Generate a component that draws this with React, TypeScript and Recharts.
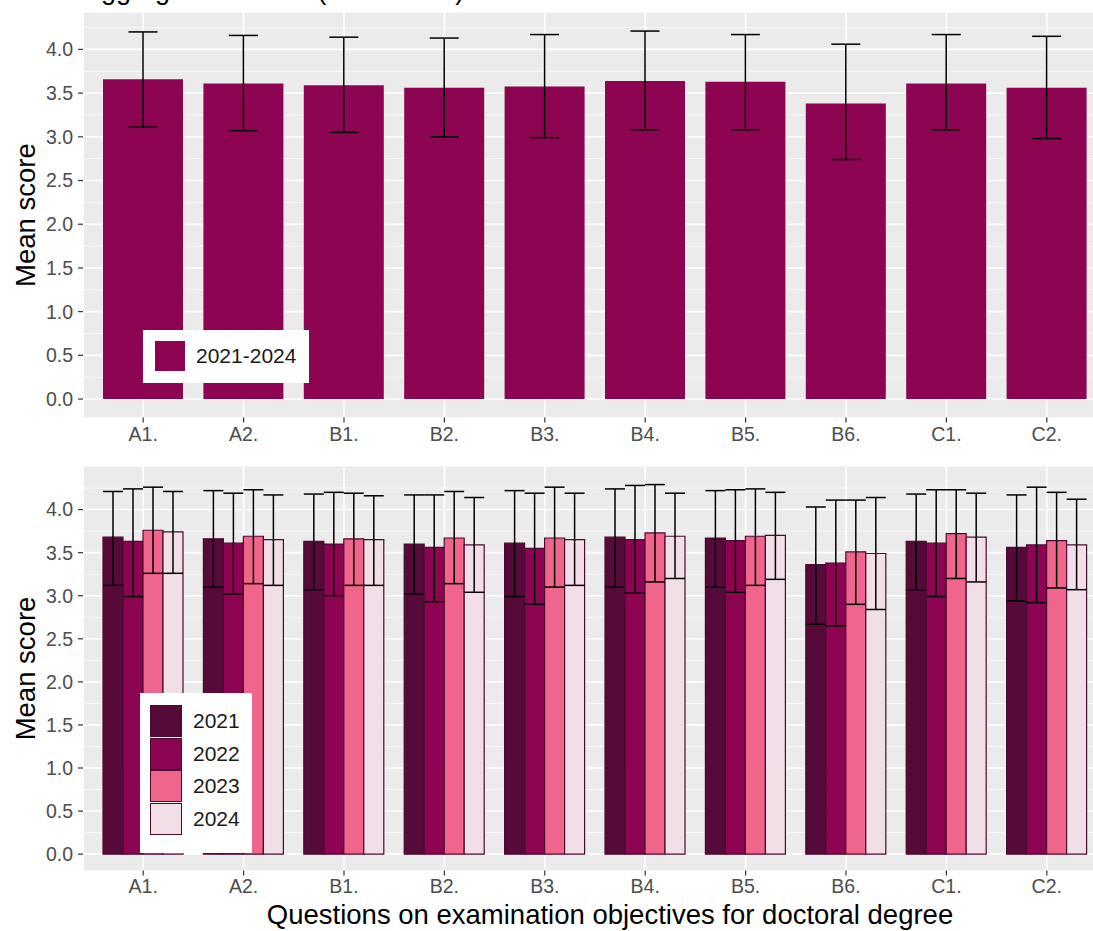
import { Bar, BarChart, CartesianGrid, ErrorBar, Label, Legend, XAxis, YAxis } from "recharts";

const font = "'Liberation Sans', Arial, sans-serif";

const questions = ["A1.", "A2.", "B1.", "B2.", "B3.", "B4.", "B5.", "B6.", "C1.", "C2."];
const yTicks = [0, 0.5, 1, 1.5, 2, 2.5, 3, 3.5, 4];
const minorTicks = [0.25, 0.75, 1.25, 1.75, 2.25, 2.75, 3.25, 3.75, 4.25];

// all years pooled
const pooledMean = [3.66, 3.61, 3.59, 3.56, 3.575, 3.64, 3.63, 3.38, 3.61, 3.56];
const pooledLow = [3.11, 3.07, 3.05, 3.0, 2.99, 3.08, 3.08, 2.74, 3.08, 2.98];
const pooledHigh = [4.2, 4.16, 4.14, 4.13, 4.17, 4.21, 4.17, 4.06, 4.17, 4.15];

const years = ["2021", "2022", "2023", "2024"];
const yearColors = ["#560A3A", "#8C0452", "#EF658C", "#F2DEE7"];

const mean2021 = [3.68, 3.66, 3.63, 3.6, 3.61, 3.68, 3.67, 3.36, 3.63, 3.56];
const low2021 = [3.12, 3.1, 3.07, 3.02, 2.99, 3.1, 3.1, 2.67, 3.07, 2.94];
const high2021 = [4.21, 4.22, 4.18, 4.17, 4.22, 4.24, 4.22, 4.03, 4.18, 4.17];

const mean2022 = [3.63, 3.61, 3.6, 3.56, 3.55, 3.65, 3.64, 3.38, 3.61, 3.59];
const low2022 = [2.99, 3.02, 3.0, 2.93, 2.9, 3.03, 3.04, 2.65, 2.99, 2.92];
const high2022 = [4.24, 4.19, 4.2, 4.17, 4.19, 4.28, 4.23, 4.11, 4.23, 4.26];

const mean2023 = [3.76, 3.69, 3.66, 3.67, 3.67, 3.73, 3.69, 3.51, 3.72, 3.64];
const low2023 = [3.26, 3.14, 3.12, 3.14, 3.1, 3.16, 3.12, 2.9, 3.2, 3.09];
const high2023 = [4.26, 4.23, 4.19, 4.21, 4.26, 4.29, 4.24, 4.11, 4.23, 4.2];

const mean2024 = [3.74, 3.65, 3.65, 3.59, 3.65, 3.69, 3.7, 3.49, 3.68, 3.59];
const low2024 = [3.26, 3.12, 3.12, 3.04, 3.12, 3.2, 3.19, 2.84, 3.16, 3.07];
const high2024 = [4.21, 4.17, 4.16, 4.14, 4.19, 4.19, 4.2, 4.14, 4.19, 4.12];

const means = [mean2021, mean2022, mean2023, mean2024];
const lows = [low2021, low2022, low2023, low2024];
const highs = [high2021, high2022, high2023, high2024];

const pooledData = questions.map((q, i) => ({
  q,
  mean: pooledMean[i],
  err: [pooledMean[i] - pooledLow[i], pooledHigh[i] - pooledMean[i]],
}));

const yearData = questions.map((q, i) => {
  const row: Record<string, unknown> = { q };
  years.forEach((y, k) => {
    row["m" + y] = means[k][i];
    row["e" + y] = [means[k][i] - lows[k][i], highs[k][i] - means[k][i]];
  });
  return row;
});

const tickStyle = { fontSize: 19.5, fill: "#4D4D4D", fontFamily: font };
const outline = "#4A0A31";

function BoxLegend({ payload, keySize, rowH, bordered, pad }: any) {
  return (
    <div style={{ background: "#fff", padding: pad, fontFamily: font }}>
      {(payload || []).map((p: any) => (
        <div key={p.value} style={{ display: "flex", alignItems: "center", height: rowH }}>
          <div
            style={{
              width: keySize,
              height: keySize,
              background: p.color,
              border: bordered ? `1.5px solid ${outline}` : "none",
              boxSizing: "border-box",
            }}
          />
          <span style={{ marginLeft: 11, fontSize: 21, color: "#1A1A1A" }}>{p.value}</span>
        </div>
      ))}
    </div>
  );
}

function YLabel({ viewBox }: any) {
  const cy = viewBox.y + viewBox.height / 2;
  return (
    <text
      x={35}
      y={cy}
      transform={`rotate(-90, 35, ${cy})`}
      textAnchor="middle"
      fontSize={27.5}
      fontFamily={font}
      fill="#000"
    >
      Mean score
    </text>
  );
}

function XTitle({ viewBox }: any) {
  return (
    <text
      x={610}
      y={viewBox.y + viewBox.height - 7}
      textAnchor="middle"
      fontSize={27.5}
      fontFamily={font}
      fill="#000"
    >
      Questions on examination objectives for doctoral degree
    </text>
  );
}

export default function App() {
  return (
    <div style={{ position: "absolute", left: 0, top: 0, width: 1093, height: 931, overflow: "hidden", background: "#fff" }}>
      <BarChart width={1107} height={450} data={pooledData} margin={{ top: 12.7, right: 0, bottom: 0, left: 0 }}>
        <text x={83} y={-1} fontSize={27} fontFamily={font} fill="#000">
          Aggregated scores (2021-2024)
        </text>
        <CartesianGrid fill="#EBEBEB" stroke="#fff" strokeWidth={1.6} horizontalValues={yTicks} />
        <CartesianGrid fill="none" stroke="#fff" strokeWidth={0.7} vertical={false} horizontalValues={minorTicks} />
        <XAxis
          dataKey="q"
          interval={0}
          height={32.6}
          padding={{ left: 10, right: 10 }}
          axisLine={false}
          tickSize={5}
          tickMargin={5}
          tickLine={{ stroke: "#333", strokeWidth: 1.2 }}
          tick={tickStyle}
        />
        <YAxis
          type="number"
          width={83}
          domain={[-0.21, 4.42]}
          allowDataOverflow
          ticks={yTicks}
          tickFormatter={(v: number) => v.toFixed(1)}
          axisLine={false}
          tickSize={5}
          tickMargin={5}
          tickLine={{ stroke: "#333", strokeWidth: 1.2 }}
          tick={tickStyle}
        >
          <Label content={<YLabel />} />
        </YAxis>
        <Legend
          layout="vertical"
          align="center"
          verticalAlign="middle"
          wrapperStyle={{ left: 143, top: 330, width: "auto" }}
          content={(props: any) => <BoxLegend {...props} keySize={30} rowH={30} bordered={false} pad="11px 13px 12px 12px" />}
        />
        <Bar dataKey="mean" name="2021-2024" fill="#8C0452" barSize={80} isAnimationActive={false}>
          <ErrorBar dataKey="err" width={14.5} stroke="#000" strokeWidth={1.5} direction="y" />
        </Bar>
      </BarChart>
      <BarChart width={1107} height={481} data={yearData} barGap={0} margin={{ top: 16.5, right: 0, bottom: 0, left: 0 }}>
        <CartesianGrid fill="#EBEBEB" stroke="#fff" strokeWidth={1.6} horizontalValues={yTicks} />
        <CartesianGrid fill="none" stroke="#fff" strokeWidth={0.7} vertical={false} horizontalValues={minorTicks} />
        <XAxis
          dataKey="q"
          interval={0}
          height={60.5}
          padding={{ left: 10, right: 10 }}
          axisLine={false}
          tickSize={5}
          tickMargin={4}
          tickLine={{ stroke: "#333", strokeWidth: 1.2 }}
          tick={tickStyle}
        >
          <Label content={<XTitle />} />
        </XAxis>
        <YAxis
          type="number"
          width={83}
          domain={[-0.19, 4.5]}
          allowDataOverflow
          ticks={yTicks}
          tickFormatter={(v: number) => v.toFixed(1)}
          axisLine={false}
          tickSize={5}
          tickMargin={5}
          tickLine={{ stroke: "#333", strokeWidth: 1.2 }}
          tick={tickStyle}
        >
          <Label content={<YLabel />} />
        </YAxis>
        <Legend
          layout="vertical"
          align="center"
          verticalAlign="middle"
          wrapperStyle={{ left: 140, top: 243, width: "auto" }}
          content={(props: any) => <BoxLegend {...props} keySize={32} rowH={32.5} bordered pad="12px 12px 18px 10px" />}
        />
        {years.map((y, k) => (
          <Bar
            key={y}
            dataKey={"m" + y}
            name={y}
            fill={yearColors[k]}
            stroke={outline}
            strokeWidth={1.2}
            barSize={20}
            isAnimationActive={false}
          >
            <ErrorBar dataKey={"e" + y} width={10} stroke="#000" strokeWidth={1.5} direction="y" />
          </Bar>
        ))}
      </BarChart>
    </div>
  );
}
